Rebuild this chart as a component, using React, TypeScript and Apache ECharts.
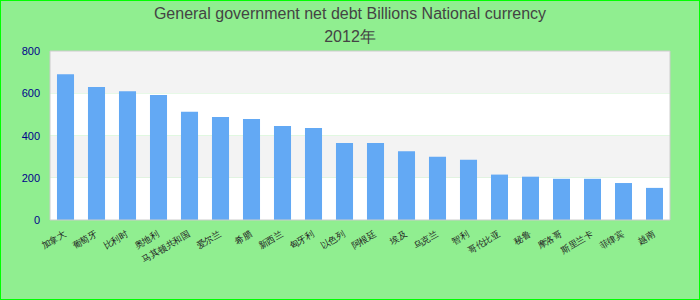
import React, { useEffect, useRef } from "react";
import * as echarts from "echarts";

const titleText = "General government net debt Billions National currency";
const subtitleText = "2012年";
const categories = [
  "加拿大", "葡萄牙", "比利时", "奥地利", "马其顿共和国", "爱尔兰", "希腊", "新西兰", "匈牙利", "以色列",
  "阿根廷", "埃及", "乌克兰", "智利", "哥伦比亚", "秘鲁", "摩洛哥", "斯里兰卡", "菲律宾", "越南",
];
const values = [690, 630, 610, 592, 512, 488, 478, 445, 435, 365, 365, 325, 300, 285, 215, 205, 195, 195, 175, 152];
const yMin = 0;
const yMax = 800;
const yInterval = 200;

export default function App() {
  const ref = useRef<HTMLDivElement>(null);
  useEffect(() => {
    document.body.style.margin = "0";
    if (!ref.current) return;
    const chart = echarts.init(ref.current, undefined, { renderer: "svg" });
    chart.setOption({
      animation: false,
      backgroundColor: "#90ee90",
      title: {
        text: titleText,
        subtext: subtitleText,
        left: "center",
        top: 4,
        padding: 0,
        itemGap: 7,
        textStyle: { fontFamily: "Liberation Sans, Arial, sans-serif", fontSize: 16, fontWeight: "normal", color: "#444" },
        subtextStyle: { fontFamily: "Liberation Sans, Arial, sans-serif", fontSize: 16, color: "#444" },
      },
      grid: { left: 49, right: 29, top: 50, bottom: 79, containLabel: false },
      xAxis: {
        type: "category",
        data: categories,
        axisLine: { show: false },
        axisTick: { show: false },
        axisLabel: {
          interval: 0,
          rotate: 30,
          fontSize: 9,
          color: "#222",
          margin: 13,
        },
      },
      yAxis: {
        type: "value",
        min: yMin,
        max: yMax,
        interval: yInterval,
        axisLine: { show: false },
        axisTick: { show: false },
        axisLabel: { color: "#00008b", fontSize: 11, fontFamily: "Liberation Sans, Arial, sans-serif", margin: 10 },
        splitLine: { show: false },
        splitArea: { show: true, areaStyle: { color: ["#ffffff", "#f3f3f3"] } },
      },
      series: [
        {
          type: "bar",
          data: values,
          barWidth: "55%",
          itemStyle: { color: "#63a9f4" },
        },
      ],
      graphic: [
        {
          type: "rect",
          shape: { x: 49, y: 50, width: 620, height: 169 },
          style: { fill: "none", stroke: "#cccccc", lineWidth: 1 },
          silent: true,
          z: 10,
        },
      ],
    });
    return () => chart.dispose();
  }, []);
  return (
    <div
      ref={ref}
      style={{ width: 700, height: 300, border: "1px solid #00ff00", boxSizing: "border-box" }}
    />
  );
}
